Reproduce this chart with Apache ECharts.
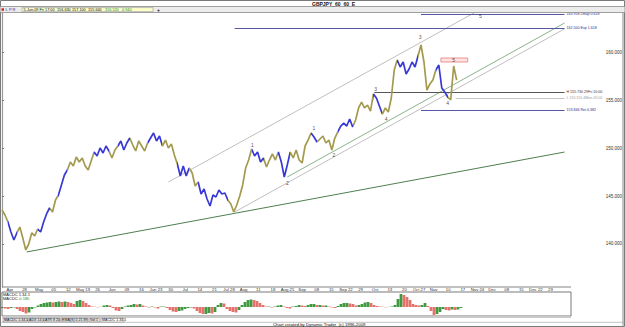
<!DOCTYPE html>
<html><head><meta charset="utf-8">
<script src="https://cdn.jsdelivr.net/npm/echarts@6/dist/echarts.min.js"></script>
<style>html,body{margin:0;padding:0;background:#fff}#c{width:625px;height:327px}</style>
</head><body><div id="c"></div>
<script>
// ---------------- data ----------------
// hourly closes (one value per bar index)
const prices = [
 143.54,143.02,142.29,141.25,140.42,141.15,141.77,140.63,139.38,140.00,
 141.15,140.83,141.56,141.25,142.29,143.13,143.75,143.33,144.58,145.10,
 146.15,147.19,147.71,148.54,148.13,149.06,148.54,148.96,148.13,147.71,
 148.65,149.58,149.17,150.00,149.48,150.21,149.69,148.96,149.79,150.21,
 150.73,149.79,150.52,151.04,150.31,149.69,150.73,150.21,149.69,150.52,
 151.04,151.56,150.73,151.25,150.21,150.83,150.00,150.42,149.27,148.33,
 147.08,148.13,147.08,147.92,147.40,146.04,146.46,145.21,145.73,144.69,
 143.96,145.10,144.90,145.63,145.21,145.31,144.58,144.17,143.33,144.06,
 145.00,146.15,147.92,148.75,149.90,149.17,149.58,148.54,148.96,148.02,
 148.75,149.38,148.75,149.58,148.54,146.98,148.23,149.58,148.96,149.79,
 148.75,148.44,150.21,150.83,151.56,151.15,150.63,150.94,151.25,150.52,
 150.83,149.79,151.04,151.67,152.29,152.60,152.29,153.02,152.19,152.92,
 154.17,154.79,154.17,154.48,153.85,155.63,155.21,154.38,153.54,154.17,
 153.75,155.21,158.13,159.17,158.44,158.96,157.71,158.23,158.96,158.44,
 159.58,160.73,158.96,156.04,156.67,157.08,158.13,158.65,156.25,155.83,
 155.31,155.00,158.54,157.08
];
// bar-index runs drawn in blue (rest olive)
const blueRuns = [[2,5],[12,16],[19,22],[31,36],[39,43],[49,54],[59,63],[66,76],[84,88],[93,97],[104,106],[113,118],[125,128],[133,140],[146,150]];
// MACD histogram
const macdHist = [
 -0.1,-0.15,-0.2,-0.1,-0.05,-0.2,-0.4,-0.5,-0.65,-0.55,
 -0.2,-0.05,0.15,0.3,0.4,0.45,0.5,0.45,0.5,0.55,
 0.5,0.55,0.5,0.4,0.3,0.6,0.7,0.6,0.4,0.2,
 0.05,0.03,-0.03,0.02,0.15,0.2,0.15,-0.1,-0.35,-0.4,
 -0.2,0.05,0.15,0.2,0.3,0.25,0.3,0.15,0.05,-0.05,
 0.05,-0.05,-0.15,0.05,0.05,-0.1,-0.3,-0.45,-0.5,-0.4,
 -0.35,-0.2,-0.1,-0.05,-0.15,-0.4,-0.6,-0.7,-0.7,-0.6,
 -0.65,-0.5,0.2,0.4,0.35,-0.2,-0.4,-0.5,-0.55,-0.3,
 0.2,0.5,0.7,0.75,0.7,0.6,0.4,0.2,0.05,0.05,
 -0.05,0.05,0.15,0.2,0.05,-0.1,-0.15,0.05,0.1,0.2,
 0.15,0.1,0.2,0.3,0.3,0.2,0.2,0.15,0.15,0.05,
 -0.05,-0.1,0.1,0.3,0.4,0.4,0.35,0.3,0.15,0.2,
 0.3,0.45,0.5,0.4,0.2,0.1,0.05,0.03,-0.03,0.02,
 0.05,0.2,0.8,1.3,1.2,1.0,0.7,0.3,0.2,0.15,
 0.2,0.4,0.1,-0.4,-0.8,-0.7,-0.5,-0.2,-0.3,-0.35,
 -0.25,-0.3,-0.25,-0.1
];
const priceTicks = [140, 145, 150, 155, 160];
const timeLabels = ["Apr","28","May","05","12","May 19","26","Jun","09","16","Jun 23","30","Jul","14","21","Jul 28","Aug","11","18","Aug 25","Sep","08","15","Sep 22","29","Oct","13","20","Oct 27","Nov","10","17","Nov 24","Dec","08","15","Dec 22","29"];
const lastPrice = 156.85;
// wave count labels [bar, price, text]
const waveLabels = [[84.3,150.31,'1'],[96,146.35,'2'],[105,152.08,'1'],[111.7,149.27,'2'],[125.7,156.15,'3'],[129.3,153.02,'4'],[140.7,161.56,'3'],[150,154.69,'4'],[152,159.17,'5'],[161,163.75,'5']];
// trend lines: [bar1, price1, bar2, price2, kind]
const trendLines = [
 [8.33,139.17,189.3,149.58,'support'],
 [78.3,143.33,189.3,162.41,'channel'],
 [96,146.98,189.3,163.02,'channelG'],
 [56,146.46,159,164.10,'channel']
];
// horizontal levels: [price, fromBar, toBar, text, kind]
const levels = [
 [163.96,141,189.3,'163.958 Lmap 0.618','fib'],
 [162.50,78.3,189.3,'162.500 Exp 1.618','fib'],
 [155.83,125.3,189.3,'H 155.730 29Fri 10:00','hi'],
 [155.21,152.7,189.3,'L 155.150 4Mon 09:00','lo'],
 [153.96,141,189.3,'153.846 Ret 0.382','fib']
];
const targetBox = [147.7,159.38,156.7,158.96];

// ---------------- chart ----------------
const FONT = '"Liberation Sans", Arial, sans-serif';
const chart = echarts.init(document.getElementById('c'), null, {renderer:'svg', width:625, height:327});
const BLUE = '#3838d6', OLIVE = '#a39a4e';
const lineKinds = {
  support:{color:'#4f7f4f', w:1},
  channel:{color:'#b8b8b8', w:0.9},
  channelG:{color:'#7fa97f', w:0.9},
  fib:{color:'#5656a6', w:1, lc:'#2c2c92'},
  hi:{color:'#555555', w:1, lc:'#333'},
  lo:{color:'#c4c4c4', w:1, lc:'#9a9a9a'}
};
const mlData = [];
trendLines.forEach(t => {
  const k = lineKinds[t[4]];
  mlData.push([{coord:[t[0],t[1]], lineStyle:{color:k.color,width:k.w,type:'solid'}, label:{show:false}}, {coord:[t[2],t[3]]}]);
});
levels.forEach(l => {
  const k = lineKinds[l[4]];
  mlData.push([{coord:[l[1],l[0]], lineStyle:{color:k.color,width:k.w,type:'solid'},
    label:{show:true, position:'end', distance:2, formatter:l[3], fontSize:3.6, color:k.lc, fontFamily:FONT}}, {coord:[l[2],l[0]]}]);
});
mlData.push([{coord:[0,lastPrice], lineStyle:{opacity:0}, label:{show:true, position:'end', distance:1.5,
  formatter:lastPrice.toFixed(3), fontSize:4.5, color:'#333', backgroundColor:'#ffff33', padding:[0.5,1], fontFamily:FONT}},
  {coord:[202.33,lastPrice]}]);

const macdData = macdHist.map((v,i) => ({value:[i,v], itemStyle:{color:(i===0||v>=macdHist[i-1])?'#3f9a3f':'#e4716b'}}));
const timePos = timeLabels.map((s,k) => (8 + 14.75*k)/3);

const txt = (x,y,t,opt={}) => ({type:'text', x, y, silent:true, z:50, style:Object.assign({text:t, font:(opt.bold?'bold ':'')+(opt.size||4.5)+'px '+FONT, fill:opt.fill||'#111', textAlign:opt.align||'left', textVerticalAlign:'middle'},opt.style||{})});
const rect = (x,y,w,h,fill,stroke,lw) => ({type:'rect', silent:true, z:40, shape:{x,y,width:w,height:h}, style:{fill:fill||'none', stroke:stroke||'none', lineWidth:lw||0.8}});
const hline = (x1,x2,y,c,w) => ({type:'line', silent:true, z:45, shape:{x1,y1:y,x2,y2:y}, style:{stroke:c,lineWidth:w||0.8}});
const vline = (x,y1,y2,c,w) => ({type:'line', silent:true, z:45, shape:{x1:x,y1,x2:x,y2}, style:{stroke:c,lineWidth:w||0.8}});

const tabs = [['MACDC 1.34.1',3,24],['ADX 14 1',28,15],['ATR 8 20',44,16],['EMA(S) 5 21 89',61,27],['Vol 1',89,11],['MACDC 1.34.1',101,23]];
const graphics = [
  rect(0.5,0.5,624,326,'none','#7a7a7a',1),
  txt(312,3.6,'GBPJPY_60  60  E',{bold:true,size:5}),
  rect(0,6.5,625,6,'#ececec','#8a8a8a',0.8),
  rect(1.5,8.3,2.5,2.5,'#d22','none'),
  txt(5.5,9.6,'L',{fill:'#2b2bb0',size:4}),
  txt(9,9.6,'P',{fill:'#2b2bb0',size:4}),
  txt(12.5,9.6,'R',{fill:'#2b2bb0',size:4}),
  rect(22,7.6,131,4,'#ffffcc','#999',0.6),
  txt(23.5,9.6,'5-Jun-09 Fri 17:00',{size:3.8}),
  txt(57,9.6,'156.630',{size:3.8}),
  txt(72,9.6,'157.100',{size:3.8}),
  txt(88,9.6,'155.640',{size:3.8}),
  txt(105,9.6,'156.520',{size:3.8,fill:'#1d8a1d'}),
  txt(122,9.6,'0.940',{size:3.8,fill:'#1d8a1d'}),
  txt(157,9.6,'+',{size:5,bold:true}),
  vline(623,13,327,'#8a8a8a',1),
  hline(2,571,287,'#666',0.8),
  rect(2,292,569,24,'none','#555',0.8),
  txt(3,294.8,'MACDC 1.34.1',{size:4}),
  txt(3,298.6,'MACDC',{size:4}),
  txt(18,298.6,'-0.180',{size:4,fill:'#1d8a1d'}),
  rect(2,316,569,2,'#c9c9c9','none'),
  hline(0,625,322.3,'#999',0.6),
  txt(273,324.5,'Chart created by Dynamic Trader  (c) 1996-2009',{size:4.3})
];
tabs.forEach((t,i) => {
  graphics.push(rect(t[1],318.3,t[2],3.8,i===tabs.length-1?'#ffffff':'#e4e4e4','#777',0.5));
  graphics.push(txt(t[1]+1,320.3,t[0],{size:3.6}));
});

chart.setOption({
  animation:false,
  backgroundColor:'#ffffff',
  textStyle:{fontFamily:FONT},
  grid:[
    {left:2, right:16, top:12, bottom:40},
    {left:2, right:54, top:293, bottom:11}
  ],
  xAxis:[
    {type:'value', gridIndex:0, min:0, max:202.33,
     axisLine:{show:false}, axisTick:{show:false}, splitLine:{show:false},
     axisLabel:{show:true, margin:0.5, fontSize:4.3, color:'#333', interval:0, hideOverlap:false,
       customValues:timePos,
       formatter:v => { const k = timePos.findIndex(p => Math.abs(p-v) < 0.01); return k>=0 ? timeLabels[k] : ''; }}},
    {type:'value', gridIndex:1, min:0, max:189.67, show:false}
  ],
  yAxis:[
    {type:'value', gridIndex:0, position:'right', min:135.52, max:164.17, scale:true,
     axisLine:{show:true, lineStyle:{color:'#9a9a9a', width:1.2}},
     axisTick:{show:true, length:2, lineStyle:{color:'#777'}, customValues:priceTicks},
     splitLine:{show:false},
     axisLabel:{show:true, margin:2.5, fontSize:4.5, color:'#333', customValues:priceTicks, formatter:v => v.toFixed(3)}},
    {type:'value', gridIndex:1, min:-0.9, max:1.4, show:false}
  ],
  visualMap:{show:false, type:'piecewise', seriesIndex:0, dimension:0,
    pieces:blueRuns.map(r => ({gte:r[0], lte:r[1], color:BLUE})),
    outOfRange:{color:OLIVE}},
  series:[
    {type:'line', xAxisIndex:0, yAxisIndex:0, data:prices.map((p,i)=>[i,p]), showSymbol:false, clip:false,
     lineStyle:{width:1.7}, z:5,
     markLine:{silent:true, symbol:['none','none'], animation:false, data:mlData},
     markArea:{silent:true, itemStyle:{color:'rgba(255,205,205,0.6)', borderColor:'#de8080', borderWidth:0.8},
       data:[[{coord:[targetBox[0],targetBox[1]]},{coord:[targetBox[2],targetBox[3]]}]]}},
    {type:'scatter', xAxisIndex:0, yAxisIndex:0, data:waveLabels, symbolSize:0.1, clip:false,
     itemStyle:{color:'rgba(0,0,0,0)'}, z:8,
     label:{show:true, position:'inside', formatter:p => p.value[2], fontSize:5, color:'#222', fontFamily:FONT}},
    {type:'bar', xAxisIndex:1, yAxisIndex:1, data:macdData, barWidth:2.8}
  ],
  graphic:graphics
});
</script></body></html>
